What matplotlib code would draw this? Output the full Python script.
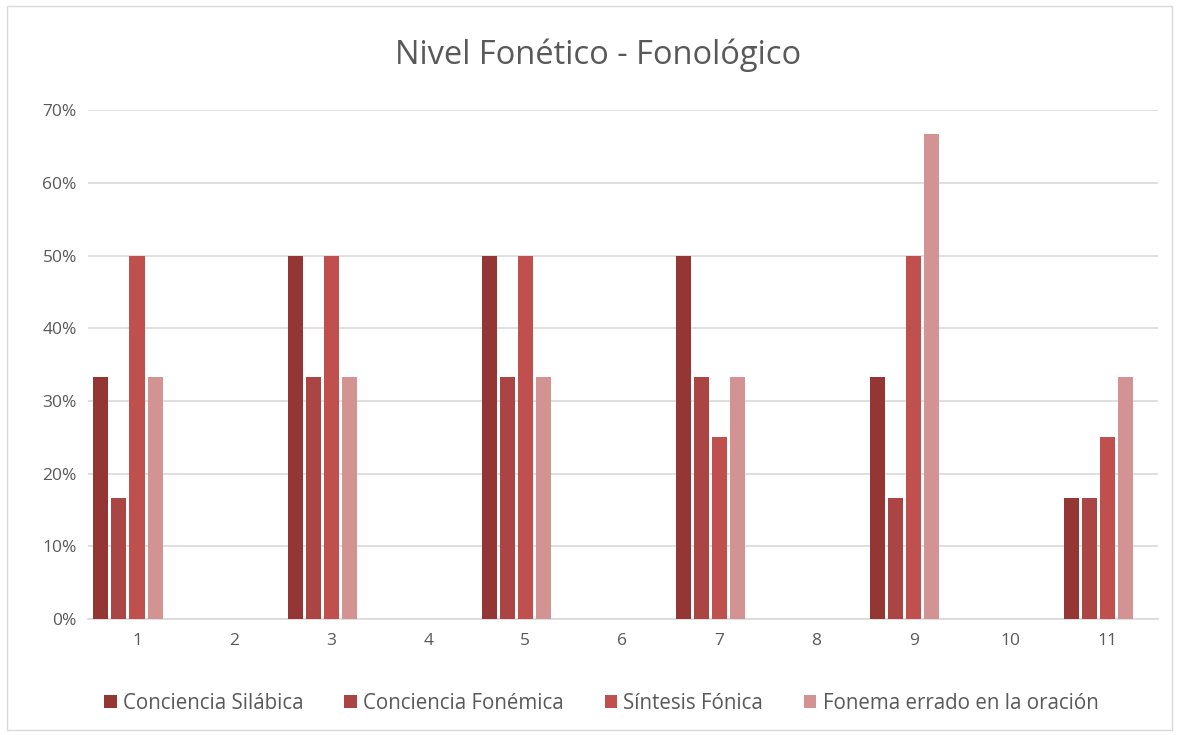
import matplotlib.pyplot as plt
import matplotlib.patches as mpatches
from matplotlib.ticker import FuncFormatter
import numpy as np

plt.rcParams['font.family'] = ['Open Sans', 'DejaVu Sans']

categorias = [1, 2, 3, 4, 5, 6, 7, 8, 9, 10, 11]
series = ['Conciencia Silábica', 'Conciencia Fonémica', 'Síntesis Fónica',
          'Fonema errado en la oración']
silabica = [0.333, 0, 0.50, 0, 0.50, 0, 0.50, 0, 0.333, 0, 0.167]
fonemica = [0.167, 0, 0.333, 0, 0.333, 0, 0.333, 0, 0.167, 0, 0.167]
sintesis = [0.50, 0, 0.50, 0, 0.50, 0, 0.25, 0, 0.50, 0, 0.25]
fonema = [0.333, 0, 0.333, 0, 0.333, 0, 0.333, 0, 0.667, 0, 0.333]
colores = ['#943634', '#AB4543', '#C0504D', '#D39392']

fig = plt.figure(figsize=(11.79, 7.35), dpi=100)
ax = fig.add_axes([0.0746, 0.158, 0.9074, 0.692])

x = np.array(categorias)
paso = 0.186
ancho = 0.155
for i, (vals, col, nom) in enumerate(zip([silabica, fonemica, sintesis, fonema], colores, series)):
    ax.bar(x + (i - 2) * paso, vals, width=ancho, color=col, label=nom, zorder=3)

ax.set_xlim(0.495, 11.515)
ax.set_ylim(0, 0.7)
ax.set_yticks(np.arange(0, 0.71, 0.1))
ax.yaxis.set_major_formatter(FuncFormatter(lambda v, p: f'{v*100:.0f}%'))
ax.set_xticks(x)
ax.grid(axis='y', color='#d9d9d9', linewidth=1.2, zorder=0)
for s in ['top', 'right', 'left']:
    ax.spines[s].set_visible(False)
ax.spines['bottom'].set_color('#d9d9d9')
ax.spines['bottom'].set_linewidth(1.2)
ax.tick_params(length=0, labelsize=12.5, colors='#595959', pad=10)
ax.tick_params(axis='y', pad=8)

fig.suptitle('Nivel Fonético - Fonológico', x=0.507, y=0.925, fontsize=23.5, color='#595959',
             va='center')

fig.legend(loc='center', bbox_to_anchor=(0.51, 0.043), ncol=4, frameon=False,
           fontsize=14.8, labelcolor='#595959', handlelength=0.6, handleheight=0.6,
           handletextpad=0.3, columnspacing=2.0)

fig.patches.append(mpatches.Rectangle((0.006, 0.007), 0.988, 0.985, transform=fig.transFigure,
                                      fill=False, edgecolor='#d9d9d9', linewidth=1))

fig.savefig('out.png', dpi=100)
